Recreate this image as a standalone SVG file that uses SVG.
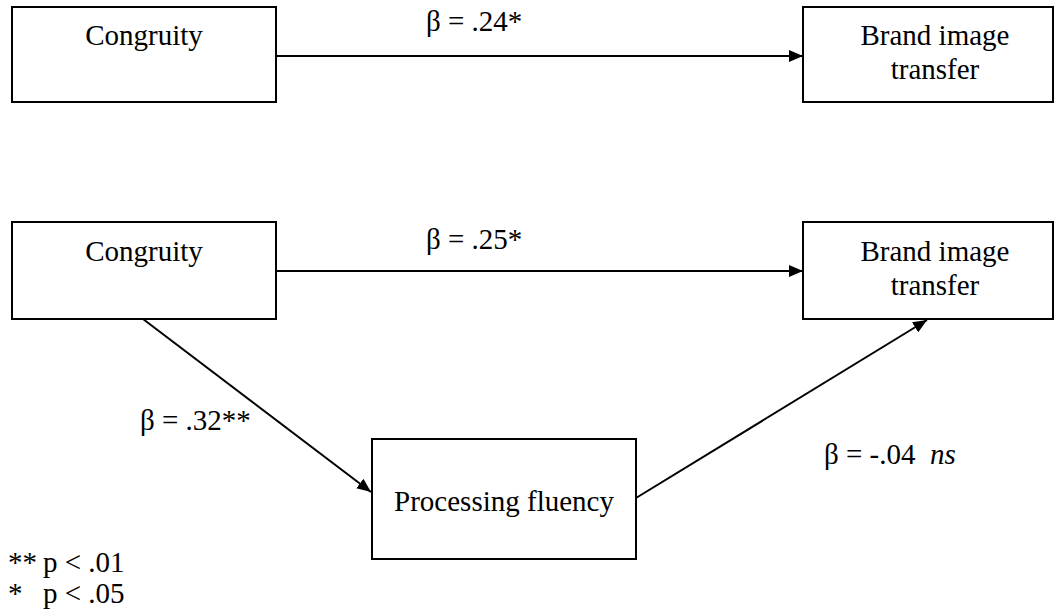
<svg xmlns="http://www.w3.org/2000/svg" width="1055" height="614" viewBox="0 0 1055 614">
  <style>
    .box { fill: #ffffff; stroke: #000000; stroke-width: 2; }
    .edge { stroke: #000000; stroke-width: 2; fill: none; marker-end: url(#head); }
  </style>
  <defs>
    <marker id="head" markerWidth="14" markerHeight="12" refX="14" refY="6" orient="auto" markerUnits="userSpaceOnUse">
      <path d="M0,0 L14,6 L0,12 Z" fill="#000000"/>
    </marker>
  </defs>

  <rect width="1055" height="614" fill="#ffffff"/>

  <g font-family="'Liberation Serif', 'Times New Roman', 'DejaVu Serif', serif" font-size="29" fill="#000000">
    <!-- direct effect model -->
    <g id="congruity-top">
      <rect class="box" x="12" y="7" width="264" height="95"/>
      <text x="144" y="45" text-anchor="middle">Congruity</text>
    </g>
    <g id="brand-top">
      <rect class="box" x="803" y="7" width="250" height="95"/>
      <text x="935" y="45" text-anchor="middle">Brand image</text>
      <text x="935" y="79" text-anchor="middle">transfer</text>
    </g>

    <!-- mediation model -->
    <g id="congruity-bottom">
      <rect class="box" x="12" y="222" width="264" height="97"/>
      <text x="144" y="261" text-anchor="middle">Congruity</text>
    </g>
    <g id="brand-bottom">
      <rect class="box" x="803" y="222" width="250" height="97"/>
      <text x="935" y="261" text-anchor="middle">Brand image</text>
      <text x="935" y="295" text-anchor="middle">transfer</text>
    </g>
    <g id="fluency">
      <rect class="box" x="372" y="439" width="264" height="120"/>
      <text x="504" y="511" text-anchor="middle">Processing fluency</text>
    </g>

    <g id="connectors">
      <line class="edge" x1="276" y1="56" x2="803" y2="56"/>
      <line class="edge" x1="276" y1="271" x2="803" y2="271"/>
      <line class="edge" x1="143" y1="319" x2="371" y2="492"/>
      <line class="edge" x1="636" y1="498" x2="927" y2="320"/>
    </g>

    <g id="coefficients">
      <text x="426" y="31">β = .24*</text>
      <text x="426" y="249">β = .25*</text>
      <text x="140" y="430">β = .32**</text>
      <text x="824" y="464" xml:space="preserve">β = -.04  <tspan font-style="italic">ns</tspan></text>
    </g>

    <g id="legend">
      <text x="8" y="572">**</text>
      <text x="43" y="572">p &lt; .01</text>
      <text x="8" y="603">*</text>
      <text x="43" y="603">p &lt; .05</text>
    </g>
  </g>
</svg>
